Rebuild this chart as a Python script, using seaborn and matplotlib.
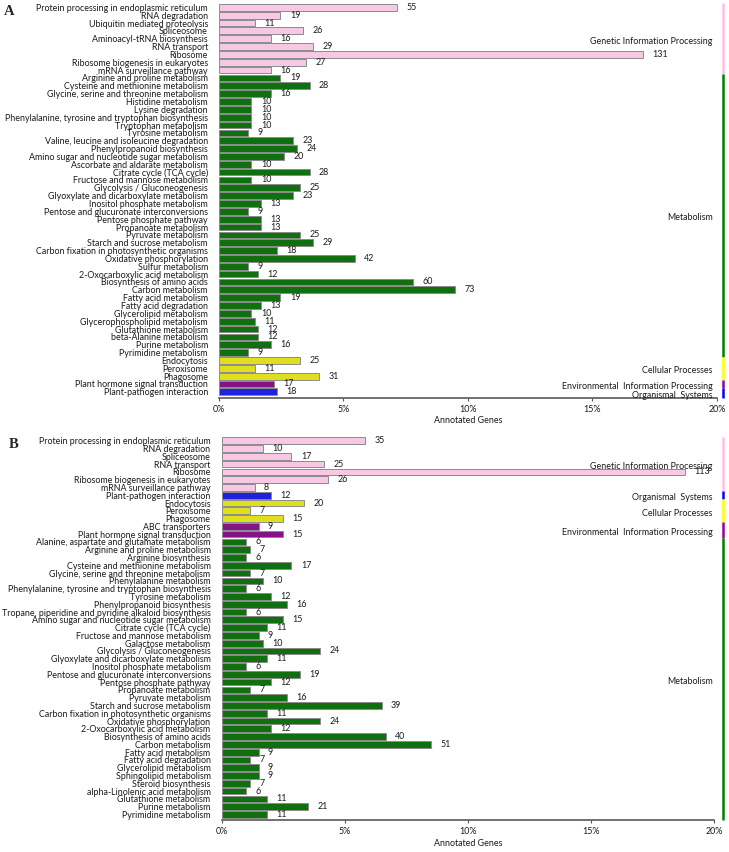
import pandas as pd
import numpy as np
import matplotlib
matplotlib.use("Agg")
import matplotlib.pyplot as plt
import matplotlib.transforms as mtransforms
import seaborn as sns

# ---- panel A data ----
a_pathways = [
    "Protein processing in endoplasmic reticulum", "RNA degradation", "Ubiquitin mediated proteolysis",
    "Spliceosome", "Aminoacyl-tRNA biosynthesis", "RNA transport", "Ribosome",
    "Ribosome biogenesis in eukaryotes", "mRNA surveillance pathway",
    "Arginine and proline metabolism", "Cysteine and methionine metabolism",
    "Glycine, serine and threonine metabolism", "Histidine metabolism", "Lysine degradation",
    "Phenylalanine, tyrosine and tryptophan biosynthesis", "Tryptophan metabolism", "Tyrosine metabolism",
    "Valine, leucine and isoleucine degradation", "Phenylpropanoid biosynthesis",
    "Amino sugar and nucleotide sugar metabolism", "Ascorbate and aldarate metabolism",
    "Citrate cycle (TCA cycle)", "Fructose and mannose metabolism", "Glycolysis / Gluconeogenesis",
    "Glyoxylate and dicarboxylate metabolism", "Inositol phosphate metabolism",
    "Pentose and glucuronate interconversions", "Pentose phosphate pathway", "Propanoate metabolism",
    "Pyruvate metabolism", "Starch and sucrose metabolism", "Carbon fixation in photosynthetic organisms",
    "Oxidative phosphorylation", "Sulfur metabolism", "2-Oxocarboxylic acid metabolism",
    "Biosynthesis of amino acids", "Carbon metabolism", "Fatty acid metabolism", "Fatty acid degradation",
    "Glycerolipid metabolism", "Glycerophospholipid metabolism", "Glutathione metabolism",
    "beta-Alanine metabolism", "Purine metabolism", "Pyrimidine metabolism",
    "Endocytosis", "Peroxisome", "Phagosome",
    "Plant hormone signal transduction", "Plant-pathogen interaction",
]
a_counts = [55, 19, 11, 26, 16, 29, 131, 27, 16,
            19, 28, 16, 10, 10, 10, 10, 9, 23, 24, 20, 10, 28, 10, 25, 23, 13, 9, 13, 13,
            25, 29, 18, 42, 9, 12, 60, 73, 19, 13, 10, 11, 12, 12, 16, 9,
            25, 11, 31, 17, 18]
a_groups = (["Genetic Information Processing"] * 9 + ["Metabolism"] * 36 +
            ["Cellular Processes"] * 3 + ["Environmental  Information Processing"] +
            ["Organismal  Systems"])
a_total = 770

# ---- panel B data ----
b_pathways = [
    "Protein processing in endoplasmic reticulum", "RNA degradation", "Spliceosome", "RNA transport",
    "Ribosome", "Ribosome biogenesis in eukaryotes", "mRNA surveillance pathway",
    "Plant-pathogen interaction", "Endocytosis", "Peroxisome", "Phagosome",
    "ABC transporters", "Plant hormone signal transduction",
    "Alanine, aspartate and glutamate metabolism", "Arginine and proline metabolism",
    "Arginine biosynthesis", "Cysteine and methionine metabolism",
    "Glycine, serine and threonine metabolism", "Phenylalanine metabolism",
    "Phenylalanine, tyrosine and tryptophan biosynthesis", "Tyrosine metabolism",
    "Phenylpropanoid biosynthesis", "Tropane, piperidine and pyridine alkaloid biosynthesis",
    "Amino sugar and nucleotide sugar metabolism", "Citrate cycle (TCA cycle)",
    "Fructose and mannose metabolism", "Galactose metabolism", "Glycolysis / Gluconeogenesis",
    "Glyoxylate and dicarboxylate metabolism", "Inositol phosphate metabolism",
    "Pentose and glucuronate interconversions", "Pentose phosphate pathway", "Propanoate metabolism",
    "Pyruvate metabolism", "Starch and sucrose metabolism", "Carbon fixation in photosynthetic organisms",
    "Oxidative phosphorylation", "2-Oxocarboxylic acid metabolism", "Biosynthesis of amino acids",
    "Carbon metabolism", "Fatty acid metabolism", "Fatty acid degradation", "Glycerolipid metabolism",
    "Sphingolipid metabolism", "Steroid biosynthesis", "alpha-Linolenic acid metabolism",
    "Glutathione metabolism", "Purine metabolism", "Pyrimidine metabolism",
]
b_counts = [35, 10, 17, 25, 113, 26, 8,
            12, 20, 7, 15, 9, 15,
            6, 7, 6, 17, 7, 10, 6, 12, 16, 6, 15, 11, 9, 10, 24, 11, 6, 19, 12, 7,
            16, 39, 11, 24, 12, 40, 51, 9, 7, 9, 9, 7, 6, 11, 21, 11]
b_groups = (["Genetic Information Processing"] * 7 + ["Organismal  Systems"] +
            ["Cellular Processes"] * 3 + ["Environmental  Information Processing"] * 2 +
            ["Metabolism"] * 36)
b_total = 600

group_colors = {
    "Genetic Information Processing": "#FFC0E6",
    "Metabolism": "#008000",
    "Cellular Processes": "#FFFF00",
    "Environmental  Information Processing": "#990099",
    "Organismal  Systems": "#0000FF",
}

sns.set_style("white")
plt.rcParams["font.family"] = ["Lato", "DejaVu Sans"]
FS = 6.4
AXC = "#595959"
TXT = "#1a1a1a"


def draw_panel(ax, pathways, counts, groups, total, line_x, letter):
    df = pd.DataFrame({"pathway": pathways, "count": counts, "group": groups})
    df["pct"] = df["count"] / total * 100
    n = len(df)
    sns.barplot(data=df, x="pct", y="pathway", hue="group", palette=group_colors,
                order=pathways, dodge=False, width=0.86, orient="h",
                edgecolor="#8c8c8c", linewidth=0.7, legend=False, ax=ax)
    for i, row in df.iterrows():
        ax.text(row["pct"] + 0.38, i, str(row["count"]), fontsize=FS, va="center", ha="left", color=TXT)
    ax.set_xlim(0, 20)
    ax.set_ylim(n - 0.25, -0.5)
    ax.set_xticks([0, 5, 10, 15, 20])
    ax.set_xticklabels(["0%", "5%", "10%", "15%", "20%"])
    ax.tick_params(axis="x", labelsize=FS, length=2.5, width=0.8, color=AXC, pad=2.5, bottom=True,
                   labelcolor=TXT)
    ax.tick_params(axis="y", labelsize=FS, length=0, pad=8, labelcolor=TXT)
    ax.set_xlabel("Annotated Genes", fontsize=FS, labelpad=2, color=TXT)
    ax.set_ylabel("")
    for s in ["top", "right", "left"]:
        ax.spines[s].set_visible(False)
    ax.spines["bottom"].set_color(AXC)
    ax.spines["bottom"].set_linewidth(1.2)

    # category brackets on the right
    trans = mtransforms.blended_transform_factory(ax.transAxes, ax.transData)
    start = 0
    for k in range(1, n + 1):
        if k == n or groups[k] != groups[start]:
            g = groups[start]
            y0, y1 = start - 0.5, k - 0.5
            if k == n:
                y1 = n - 0.25
            ax.plot([line_x, line_x], [y0, y1], color=group_colors[g], lw=1.8,
                    transform=trans, clip_on=False, solid_capstyle="butt")
            ax.text(line_x - 0.02, (y0 + y1) / 2 + 0.3, g, fontsize=FS, ha="right", va="center",
                    transform=trans, color=TXT)
            start = k
    ax.text(-0.432, 0.5, letter, fontsize=10.5, fontweight="bold", family="Liberation Serif",
            ha="left", va="center", transform=trans)


fig = plt.figure(figsize=(7.29, 8.52), dpi=100)
ax_a = fig.add_axes([0.3004, 0.5332, 0.6831, 0.4628])
ax_b = fig.add_axes([0.3041, 0.0372, 0.6753, 0.4501])

draw_panel(ax_a, a_pathways, a_counts, a_groups, a_total, 1.0114, "A")
draw_panel(ax_b, b_pathways, b_counts, b_groups, b_total, 1.0177, "B")

fig.savefig("out.png", dpi=100)
